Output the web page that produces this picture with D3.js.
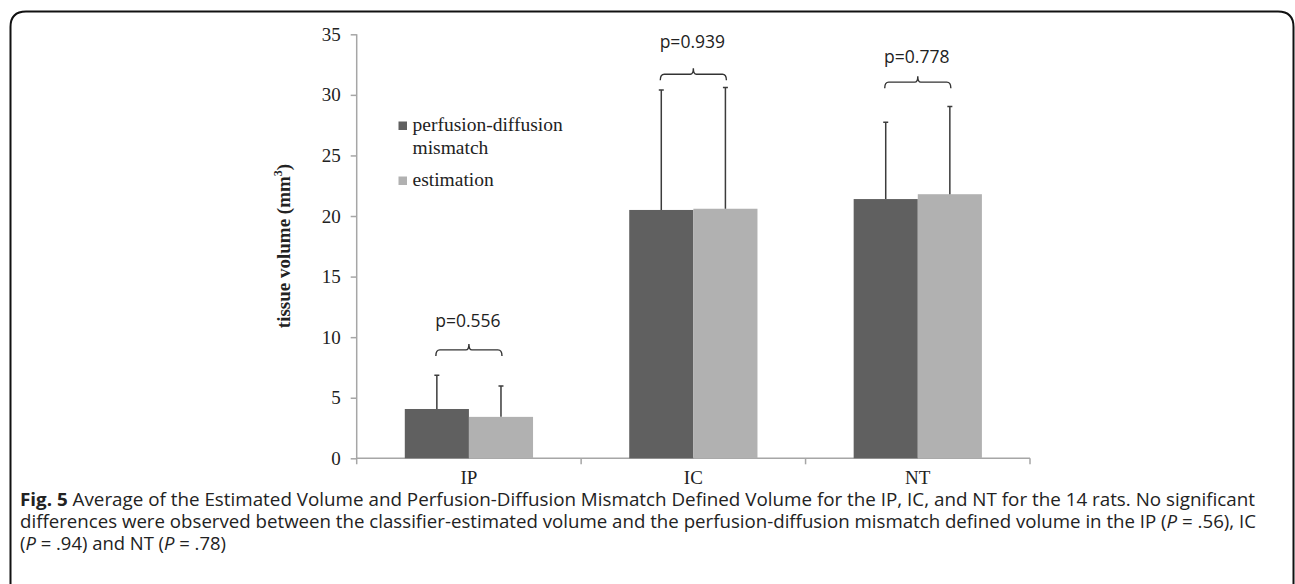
<!DOCTYPE html>
<html>
<head>
<meta charset="utf-8">
<script src="https://cdn.jsdelivr.net/npm/d3@7"></script>
<style>
  body { margin: 0; background: #fff; }
</style>
</head>
<body>
<svg id="chart"></svg>
<script>
// values
const categories = ["IP", "IC", "NT"];
const seriesNames = ["perfusion-diffusion mismatch", "estimation"];
const mismatchMean = [4.07, 20.5, 21.4];
const mismatchErr = [6.85, 30.4, 27.75];   // top of the upper whisker
const estimationMean = [3.42, 20.6, 21.8];
const estimationErr = [5.97, 30.6, 29.05];
const pValues = ["p=0.556", "p=0.939", "p=0.778"];
const bracketLevel = [8.95, 31.7, 31.05];
const pLabelLevel = [10.85, 33.85, 32.6];
const yTicks = [0, 5, 10, 15, 20, 25, 30, 35];

const width = 1295, height = 584;
const plot = { left: 356.7, right: 1030, top: 34.3, bottom: 458.3 };

const svg = d3.select("#chart").attr("width", width).attr("height", height);

// rounded frame around the whole figure (open at the bottom)
svg.append("path")
    .attr("d", `M10.5,${height + 5} L10.5,27 Q10.5,11.5 26,11.5 L1278,11.5 Q1293.5,11.5 1293.5,27 L1293.5,${height + 5}`)
    .attr("fill", "none").attr("stroke", "#111").attr("stroke-width", 2);

const rows = categories.map((c, i) => ({
    cat: c,
    vals: [
        { s: seriesNames[0], v: mismatchMean[i], e: mismatchErr[i], color: "#606060" },
        { s: seriesNames[1], v: estimationMean[i], e: estimationErr[i], color: "#b1b1b1" }
    ]
}));

const x0 = d3.scaleBand().domain(categories).range([plot.left, plot.right]).padding(0);
const x1 = d3.scaleBand().domain(seriesNames).range([0, x0.bandwidth()]).paddingInner(0).paddingOuter(0.75);
const y = d3.scaleLinear().domain([0, 35]).range([plot.bottom, plot.top]);

// y axis
const yAxis = svg.append("g")
    .attr("transform", `translate(${plot.left},0)`)
    .call(d3.axisLeft(y).tickValues(yTicks).tickSize(6).tickPadding(10).tickSizeOuter(0));
yAxis.select(".domain").attr("stroke", "#a6a6a6").attr("stroke-width", 1.5)
    .attr("d", `M0,${plot.top}V${plot.bottom + 6}`);
yAxis.selectAll(".tick line").attr("stroke", "#a6a6a6").attr("stroke-width", 1.5);
yAxis.selectAll(".tick text")
    .attr("font-family", "Liberation Serif, Times New Roman, serif")
    .attr("font-size", 19).attr("fill", "#222");

// x axis
const xAxis = svg.append("g").attr("transform", `translate(0,${plot.bottom})`);
xAxis.append("line").attr("x1", plot.left).attr("x2", plot.right)
    .attr("stroke", "#a6a6a6").attr("stroke-width", 1.5);
xAxis.selectAll(".sep").data(categories).enter().append("line")
    .attr("x1", d => x0(d) + x0.bandwidth()).attr("x2", d => x0(d) + x0.bandwidth())
    .attr("y1", 0).attr("y2", 6)
    .attr("stroke", "#a6a6a6").attr("stroke-width", 1.5);
xAxis.selectAll(".lab").data(categories).enter().append("text")
    .attr("x", d => x0(d) + x0.bandwidth() / 2).attr("y", 26)
    .attr("text-anchor", "middle")
    .attr("font-family", "Liberation Serif, Times New Roman, serif")
    .attr("font-size", 19).attr("fill", "#222")
    .text(d => d);

// y title
const yTitle = svg.append("text")
    .attr("transform", "translate(290,246) rotate(-90)")
    .attr("text-anchor", "middle")
    .attr("font-family", "Liberation Serif, Times New Roman, serif")
    .attr("font-weight", "bold").attr("font-size", 19).attr("fill", "#222");
yTitle.append("tspan").text("tissue volume (mm");
yTitle.append("tspan").attr("dy", -8).attr("font-size", 12).text("3");
yTitle.append("tspan").attr("dy", 8).text(")");

// bars, whiskers
const groups = svg.selectAll(".grp").data(rows).enter().append("g")
    .attr("transform", d => `translate(${x0(d.cat)},0)`);

groups.selectAll("rect").data(d => d.vals).enter().append("rect")
    .attr("x", d => x1(d.s)).attr("width", x1.bandwidth())
    .attr("y", d => y(d.v)).attr("height", d => y(0) - y(d.v))
    .attr("fill", d => d.color);

groups.selectAll(".whisk").data(d => d.vals).enter().append("path")
    .attr("d", d => {
        const cx = x1(d.s) + x1.bandwidth() / 2;
        return `M${cx},${y(d.v)}V${y(d.e)}M${cx - 2.5},${y(d.e)}H${cx + 2.5}`;
    })
    .attr("fill", "none").attr("stroke", "#3c3c3c").attr("stroke-width", 1.5);

// significance brackets
groups.append("path")
    .attr("d", (d, i) => {
        const a = x1(seriesNames[0]) + x1.bandwidth() / 2 - 1;
        const b = x1(seriesNames[1]) + x1.bandwidth() / 2 + 1;
        const m = (a + b) / 2;
        const yl = y(bracketLevel[i]);
        return `M${a},${yl + 6} Q${a},${yl} ${a + 4},${yl} H${m - 3} Q${m},${yl} ${m},${yl - 6}` +
               ` Q${m},${yl} ${m + 3},${yl} H${b - 4} Q${b},${yl} ${b},${yl + 6}`;
    })
    .attr("fill", "none").attr("stroke", "#333").attr("stroke-width", 1.4);

groups.append("text")
    .attr("x", x0.bandwidth() / 2 - 1)
    .attr("y", (d, i) => y(pLabelLevel[i]))
    .attr("text-anchor", "middle")
    .attr("font-family", "Open Sans, Noto Sans, sans-serif")
    .attr("font-size", 17.5).attr("fill", "#222")
    .text((d, i) => pValues[i]);

// legend
const legend = svg.append("g").attr("font-family", "Liberation Serif, Times New Roman, serif")
    .attr("font-size", 19.5).attr("fill", "#222");
legend.append("rect").attr("x", 398.5).attr("y", 121.5).attr("width", 8.5).attr("height", 8.5).attr("fill", "#606060");
legend.append("text").attr("x", 412.5).attr("y", 131).text("perfusion-diffusion");
legend.append("text").attr("x", 412.5).attr("y", 153.5).text("mismatch");
legend.append("rect").attr("x", 398.5).attr("y", 176.5).attr("width", 8.5).attr("height", 8.5).attr("fill", "#b1b1b1");
legend.append("text").attr("x", 412.5).attr("y", 186).text("estimation");

// caption
const cap = svg.append("g").attr("font-family", "Open Sans, Noto Sans, sans-serif")
    .attr("font-size", 17.5).attr("fill", "#222");
const l1 = cap.append("text").attr("x", 20).attr("y", 506)
    .attr("textLength", 1235).attr("lengthAdjust", "spacingAndGlyphs");
l1.append("tspan").attr("font-weight", "bold").text("Fig. 5");
l1.append("tspan").text(" Average of the Estimated Volume and Perfusion-Diffusion Mismatch Defined Volume for the IP, IC, and NT for the 14 rats. No significant");
const l2 = cap.append("text").attr("x", 20).attr("y", 528)
    .attr("textLength", 1236).attr("lengthAdjust", "spacingAndGlyphs");
l2.append("tspan").text("differences were observed between the classifier-estimated volume and the perfusion-diffusion mismatch defined volume in the IP (");
l2.append("tspan").attr("font-style", "italic").text("P");
l2.append("tspan").text(" = .56), IC");
const l3 = cap.append("text").attr("x", 20).attr("y", 550)
    .attr("textLength", 206).attr("lengthAdjust", "spacingAndGlyphs");
l3.append("tspan").text("(");
l3.append("tspan").attr("font-style", "italic").text("P");
l3.append("tspan").text(" = .94) and NT (");
l3.append("tspan").attr("font-style", "italic").text("P");
l3.append("tspan").text(" = .78)");
</script>
</body>
</html>
